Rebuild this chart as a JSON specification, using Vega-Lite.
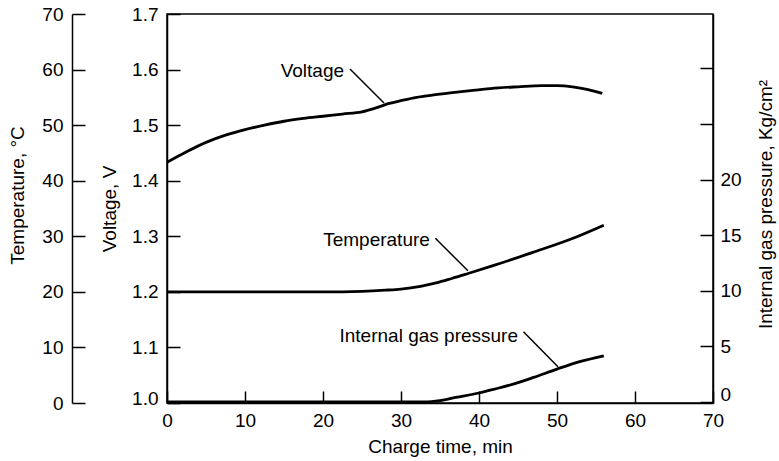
{
  "$schema": "https://vega.github.io/schema/vega-lite/v6.json",
  "width": 546,
  "height": 389,
  "autosize": {"type": "none"},
  "padding": {"left": 167, "top": 14, "right": 66, "bottom": 58},
  "background": "white",
  "config": {
    "view": {"stroke": "black", "strokeWidth": 1.5},
    "font": "Liberation Sans",
    "axis": {
      "grid": false,
      "domainColor": "black",
      "domainWidth": 1.5,
      "tickColor": "black",
      "tickWidth": 1.5,
      "labelColor": "black",
      "titleColor": "black",
      "labelFont": "Liberation Sans",
      "titleFont": "Liberation Sans",
      "labelFontSize": 19,
      "titleFontSize": 19,
      "titleFontWeight": "normal"
    }
  },
  "datasets": {
    "voltage": [
      {"time": 0, "voltage": 1.433},
      {"time": 2.5, "voltage": 1.452},
      {"time": 5, "voltage": 1.469},
      {"time": 7.5, "voltage": 1.482},
      {"time": 10, "voltage": 1.492},
      {"time": 12.5, "voltage": 1.5},
      {"time": 15, "voltage": 1.507},
      {"time": 17.5, "voltage": 1.512},
      {"time": 20, "voltage": 1.516},
      {"time": 22.5, "voltage": 1.52},
      {"time": 25, "voltage": 1.524},
      {"time": 27, "voltage": 1.532},
      {"time": 28.5, "voltage": 1.539},
      {"time": 30, "voltage": 1.544},
      {"time": 32, "voltage": 1.55},
      {"time": 34, "voltage": 1.554},
      {"time": 36.3, "voltage": 1.558},
      {"time": 39.5, "voltage": 1.563},
      {"time": 42.5, "voltage": 1.567},
      {"time": 45, "voltage": 1.569},
      {"time": 48, "voltage": 1.571},
      {"time": 50, "voltage": 1.571},
      {"time": 52, "voltage": 1.569},
      {"time": 54, "voltage": 1.564},
      {"time": 55.8, "voltage": 1.557}
    ],
    "temperature": [
      {"time": 0, "temperature": 20},
      {"time": 10, "temperature": 20},
      {"time": 20, "temperature": 20},
      {"time": 25, "temperature": 20.1},
      {"time": 28, "temperature": 20.3},
      {"time": 30, "temperature": 20.5},
      {"time": 32.5, "temperature": 21.0},
      {"time": 34.5, "temperature": 21.6},
      {"time": 36.5, "temperature": 22.4},
      {"time": 38.6, "temperature": 23.3},
      {"time": 42, "temperature": 24.8},
      {"time": 46.9, "temperature": 27.1},
      {"time": 51.8, "temperature": 29.5},
      {"time": 56, "temperature": 32.0}
    ],
    "pressure": [
      {"time": 0, "pressure": 0},
      {"time": 10, "pressure": 0},
      {"time": 20, "pressure": 0},
      {"time": 30, "pressure": 0},
      {"time": 33, "pressure": 0},
      {"time": 35, "pressure": 0.12},
      {"time": 37, "pressure": 0.4},
      {"time": 40, "pressure": 0.8},
      {"time": 42, "pressure": 1.15},
      {"time": 44.5, "pressure": 1.62},
      {"time": 47, "pressure": 2.2},
      {"time": 50, "pressure": 2.95},
      {"time": 52.8, "pressure": 3.6},
      {"time": 56, "pressure": 4.15}
    ],
    "labels": [
      {"time": 22.7, "voltage": 1.597, "label": "Voltage"},
      {"time": 33.7, "voltage": 1.294, "label": "Temperature"},
      {"time": 45.0, "voltage": 1.121, "label": "Internal gas pressure"}
    ],
    "leaders": [
      {"t1": 23.46, "v1": 1.601, "t2": 27.82, "v2": 1.54},
      {"t1": 34.4, "v1": 1.2964, "t2": 38.58, "v2": 1.2381},
      {"t1": 45.7, "v1": 1.1283, "t2": 50.12, "v2": 1.0653}
    ]
  },
  "layer": [
    {
      "layer": [
        {
          "data": {"name": "voltage"},
          "mark": {"type": "line", "color": "black", "strokeWidth": 2.8, "interpolate": "monotone"},
          "encoding": {
            "x": {
              "field": "time", "type": "quantitative", "title": "Charge time, min",
              "scale": {"domain": [0, 70], "nice": false},
              "axis": {
                "values": [0, 10, 20, 30, 40, 50, 60, 70],
                "tickSize": -12, "labelPadding": 20,
                "titleBaseline": "top", "titleY": 34,
                "labelFlush": false
              }
            },
            "y": {
              "field": "voltage", "type": "quantitative", "title": "Voltage, V",
              "scale": {"domain": [1.0, 1.7], "nice": false, "zero": false},
              "axis": {
                "orient": "left",
                "values": [1.0, 1.1, 1.2, 1.3, 1.4, 1.5, 1.6, 1.7],
                "format": ".1f",
                "tickSize": -13, "labelPadding": 22,
                "labelOffset": {"condition": {"test": "datum.value < 1.05", "value": -5}, "value": 0},
                "titleX": -48, "titleAngle": 270, "titleBaseline": "bottom"
              }
            }
          }
        },
        {
          "data": {"name": "leaders"},
          "mark": {"type": "rule", "color": "black", "strokeWidth": 1.5},
          "encoding": {
            "x": {"field": "t1", "type": "quantitative", "title": "Charge time, min"},
            "x2": {"field": "t2"},
            "y": {"field": "v1", "type": "quantitative", "title": "Voltage, V"},
            "y2": {"field": "v2"}
          }
        },
        {
          "data": {"name": "labels"},
          "mark": {"type": "text", "align": "right", "baseline": "middle", "fontSize": 19, "font": "Liberation Sans", "color": "black"},
          "encoding": {
            "x": {"field": "time", "type": "quantitative", "title": "Charge time, min"},
            "y": {"field": "voltage", "type": "quantitative", "title": "Voltage, V"},
            "text": {"field": "label"}
          }
        }
      ]
    },
    {
      "data": {"name": "temperature"},
      "mark": {"type": "line", "color": "black", "strokeWidth": 2.8, "interpolate": "monotone"},
      "encoding": {
        "x": {"field": "time", "type": "quantitative", "title": "Charge time, min"},
        "y": {
          "field": "temperature", "type": "quantitative", "title": "Temperature, °C",
          "scale": {"domain": [0, 70], "nice": false},
          "axis": {
            "orient": "left", "offset": 95,
            "values": [0, 10, 20, 30, 40, 50, 60, 70],
            "tickSize": -13, "labelPadding": 22,
            "titleX": -45, "titleY": 181, "titleAngle": 270, "titleBaseline": "bottom"
          }
        }
      }
    },
    {
      "data": {"name": "pressure"},
      "mark": {"type": "line", "color": "black", "strokeWidth": 2.8, "interpolate": "monotone"},
      "encoding": {
        "x": {"field": "time", "type": "quantitative", "title": "Charge time, min"},
        "y": {
          "field": "pressure", "type": "quantitative", "title": "Internal gas pressure, Kg/cm²",
          "scale": {"domain": [-0.1, 34.9], "nice": false, "zero": false},
          "axis": {
            "orient": "right",
            "values": [0, 5, 10, 15, 20, 25, 30],
            "labelExpr": "datum.value <= 20 ? datum.label : ''",
            "tickSize": -13, "labelPadding": 20,
            "labelOffset": {"condition": {"test": "datum.value < 1", "value": -7}, "value": 0},
            "titleX": 43, "titleY": 190, "titleAngle": 270, "titleBaseline": "top"
          }
        }
      }
    }
  ],
  "resolve": {"scale": {"y": "independent"}, "axis": {"y": "independent"}}
}
